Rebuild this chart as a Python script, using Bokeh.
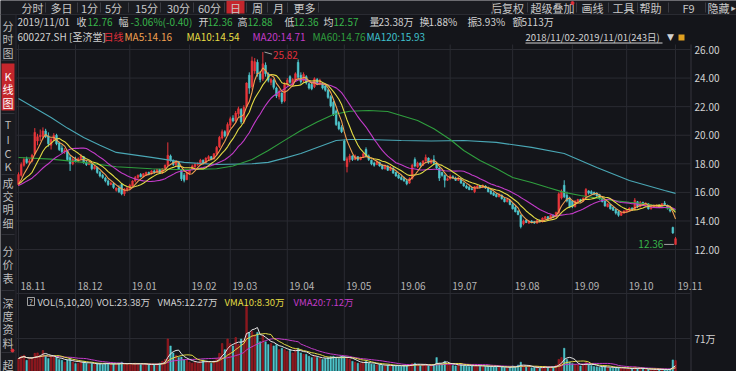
import pandas as pd
from bokeh.plotting import figure
from bokeh.models import Range1d, ColumnDataSource
from bokeh.core.properties import value
from bokeh.embed import file_html
from bokeh.resources import INLINE

# ---------------- data ----------------
# daily candles 2018/11/02 - 2019/11/01 (243 sessions), index 0..242
opens = [
    16.55, 17.20, 17.90, 18.35, 18.10, 18.20, 18.70, 19.60, 19.90, 19.90,
    20.30, 19.95, 19.30, 19.70, 20.00, 19.45, 19.10, 18.85, 18.90, 18.45,
    18.00, 18.30, 18.20, 18.35, 18.50, 18.10, 17.95, 18.00, 17.65, 17.75,
    17.40, 17.20, 17.00, 16.80, 16.55, 16.60, 16.15, 16.30, 16.55, 15.90,
    16.20, 16.25, 16.45, 16.80, 17.05, 17.25, 17.10, 17.25, 17.40, 17.30,
    17.50, 17.40, 17.60, 17.35, 17.60, 17.90, 18.55, 18.25, 17.95, 18.10,
    17.55, 17.20, 16.90, 17.35, 17.60, 17.80, 17.95, 17.95, 18.25, 18.05,
    18.35, 18.50, 18.35, 18.70, 19.20, 19.80, 20.25, 20.00, 20.70, 21.20,
    21.00, 21.50, 21.80, 20.95, 22.00, 24.20, 23.40, 24.50, 25.10, 24.30,
    23.95, 24.90, 24.30, 23.70, 23.85, 23.30, 22.70, 22.95, 22.40, 23.55,
    24.10, 23.55, 23.85, 25.10, 24.20, 23.80, 24.10, 23.60, 23.55, 23.40,
    23.90, 23.60, 23.60, 23.45, 23.15, 22.70, 22.30, 21.70, 20.90, 20.55,
    19.60, 17.80, 18.30, 18.55, 18.30, 18.50, 18.30, 18.45, 19.00, 18.55,
    18.25, 18.05, 17.95, 18.10, 17.90, 17.65, 17.85, 17.55, 17.70, 17.40,
    17.20, 17.05, 16.95, 16.80, 16.65, 16.95, 18.30, 17.80, 18.05, 17.90,
    18.20, 18.40, 18.05, 18.30, 18.00, 17.70, 17.40, 17.20, 16.85, 16.95,
    17.10, 17.00, 16.85, 16.95, 16.65, 16.45, 16.35, 16.25, 16.05, 16.35,
    16.45, 16.35, 16.45, 16.30, 16.10, 15.95, 15.85, 15.70, 15.80, 15.55,
    15.35, 15.45, 15.15, 14.95, 14.70, 14.40, 13.80, 14.05, 13.85, 14.00,
    13.95, 13.85, 14.05, 13.95, 14.15, 14.30, 14.15, 14.40, 14.30, 14.55,
    15.60, 16.50, 15.80, 15.60, 15.40, 15.00, 15.35, 15.50, 15.40, 15.60,
    16.10, 16.05, 16.00, 15.95, 15.85, 15.60, 15.40, 15.00, 15.15, 14.95,
    14.80, 14.65, 14.40, 14.55, 14.65, 14.75, 14.90, 14.80, 15.35, 15.00,
    15.30, 15.10, 15.20, 14.85, 14.95, 15.05, 15.10, 14.95, 15.25, 15.10,
    14.95, 13.55, 12.36,
]
highs = [
    17.40, 18.10, 18.45, 18.50, 18.35, 18.70, 20.50, 20.10, 20.40, 20.55,
    20.45, 20.20, 19.80, 20.15, 20.10, 19.55, 19.30, 19.10, 18.95, 18.60,
    18.45, 18.50, 18.45, 18.70, 18.55, 18.25, 18.15, 18.05, 17.90, 17.80,
    17.50, 17.30, 17.10, 16.90, 16.75, 16.70, 16.35, 16.50, 16.65, 16.30,
    16.40, 16.60, 16.85, 17.15, 17.25, 17.35, 17.35, 17.45, 17.45, 17.55,
    17.60, 17.65, 17.65, 17.70, 17.95, 19.50, 18.65, 18.30, 18.25, 18.15,
    17.60, 17.35, 17.45, 17.65, 17.95, 18.05, 18.10, 18.35, 18.30, 18.45,
    18.60, 18.55, 18.75, 19.25, 19.95, 20.40, 20.35, 20.90, 21.30, 21.40,
    21.70, 22.00, 21.90, 22.10, 23.70, 24.40, 25.50, 25.40, 25.30, 24.50,
    25.82, 25.10, 24.40, 24.00, 23.95, 23.40, 23.20, 23.00, 23.70, 24.00,
    24.20, 24.00, 24.40, 25.30, 24.40, 24.40, 24.20, 23.70, 23.65, 24.05,
    24.00, 23.95, 23.70, 23.55, 23.25, 22.80, 22.40, 21.80, 21.00, 20.70,
    19.70, 18.50, 18.70, 18.60, 18.65, 18.55, 18.50, 18.80, 19.15, 18.65,
    18.30, 18.15, 18.25, 18.15, 17.95, 17.95, 17.90, 17.85, 17.75, 17.45,
    17.30, 17.20, 17.10, 16.95, 17.05, 18.00, 18.45, 18.15, 18.10, 18.25,
    18.65, 18.45, 18.35, 18.60, 18.10, 17.75, 17.45, 17.25, 17.05, 17.25,
    17.20, 17.10, 17.10, 17.00, 16.70, 16.55, 16.45, 16.40, 16.45, 16.55,
    16.50, 16.55, 16.50, 16.40, 16.20, 16.05, 15.95, 15.95, 15.85, 15.60,
    15.55, 15.50, 15.25, 15.05, 14.75, 14.45, 14.10, 14.10, 14.05, 14.05,
    14.00, 14.10, 14.10, 14.25, 14.35, 14.35, 14.45, 14.45, 14.65, 16.00,
    16.20, 16.85, 16.05, 15.70, 15.45, 15.45, 15.55, 15.55, 15.65, 16.30,
    16.15, 16.15, 16.05, 16.00, 15.90, 15.65, 15.45, 15.25, 15.20, 15.00,
    14.85, 14.70, 14.65, 14.75, 14.85, 14.95, 14.95, 15.60, 15.40, 15.40,
    15.35, 15.30, 15.25, 15.05, 15.15, 15.15, 15.15, 15.25, 15.40, 15.15,
    15.00, 13.60, 12.88,
]
lows = [
    16.45, 17.10, 17.80, 18.00, 17.95, 18.10, 18.60, 19.30, 19.60, 19.70,
    19.80, 19.20, 19.00, 19.60, 19.30, 18.90, 18.75, 18.70, 18.20, 17.50,
    17.90, 18.10, 18.10, 18.25, 18.00, 17.85, 17.90, 17.55, 17.60, 17.30,
    17.05, 16.95, 16.70, 16.45, 16.50, 16.25, 16.05, 15.95, 15.80, 15.75,
    16.05, 16.15, 16.40, 16.70, 16.85, 17.05, 17.05, 17.15, 17.20, 17.25,
    17.30, 17.35, 17.30, 17.30, 17.55, 17.85, 18.15, 17.85, 17.80, 17.60,
    16.80, 16.70, 16.85, 17.25, 17.55, 17.70, 17.85, 17.90, 17.95, 18.00,
    18.25, 18.25, 18.30, 18.60, 19.10, 19.70, 19.85, 19.95, 20.50, 20.90,
    20.90, 21.30, 20.80, 20.80, 21.90, 22.90, 23.20, 24.30, 24.10, 23.70,
    23.80, 24.10, 23.70, 23.50, 23.20, 22.60, 22.50, 22.20, 22.30, 23.40,
    23.60, 23.45, 23.75, 23.90, 23.60, 23.70, 23.55, 23.20, 23.15, 23.30,
    23.50, 23.50, 23.20, 23.05, 22.55, 21.95, 21.35, 20.65, 20.35, 20.15,
    18.20, 17.40, 18.10, 18.20, 18.25, 18.20, 18.25, 18.40, 18.45, 18.20,
    17.90, 17.80, 17.90, 17.80, 17.60, 17.60, 17.50, 17.50, 17.30, 17.10,
    16.95, 16.85, 16.75, 16.50, 16.60, 16.90, 17.75, 17.70, 17.80, 17.85,
    18.15, 18.00, 18.00, 17.95, 17.60, 16.80, 17.10, 16.35, 16.80, 16.90,
    16.95, 16.80, 16.80, 16.60, 16.40, 16.25, 16.15, 16.15, 15.95, 16.25,
    16.30, 16.30, 16.25, 16.00, 15.85, 15.75, 15.65, 15.65, 15.50, 15.30,
    15.30, 15.10, 14.80, 14.60, 14.40, 13.48, 13.70, 13.85, 13.80, 13.85,
    13.80, 13.80, 13.90, 13.90, 14.10, 14.10, 14.10, 14.20, 14.25, 14.45,
    15.50, 15.60, 15.30, 14.90, 14.90, 14.95, 15.20, 15.30, 15.35, 15.55,
    15.85, 15.85, 15.80, 15.70, 15.50, 15.30, 15.00, 14.95, 14.80, 14.70,
    14.45, 14.30, 14.35, 14.50, 14.60, 14.70, 14.70, 14.75, 14.90, 14.95,
    15.05, 15.05, 14.80, 14.80, 14.90, 14.95, 14.90, 14.90, 15.10, 14.80,
    14.60, 13.10, 12.36,
]
closes = [
    17.25, 17.95, 18.30, 18.10, 18.20, 18.60, 20.20, 19.90, 20.00, 20.30,
    19.90, 19.40, 19.70, 20.00, 19.40, 19.00, 18.85, 18.95, 18.30, 18.00,
    18.30, 18.20, 18.35, 18.55, 18.10, 17.95, 18.05, 17.65, 17.80, 17.40,
    17.15, 17.05, 16.80, 16.55, 16.65, 16.35, 16.30, 16.05, 15.90, 16.20,
    16.30, 16.50, 16.80, 17.05, 17.20, 17.10, 17.30, 17.40, 17.30, 17.50,
    17.40, 17.60, 17.35, 17.65, 17.90, 18.60, 18.25, 17.95, 18.15, 17.65,
    16.95, 16.85, 17.35, 17.55, 17.85, 17.95, 18.00, 18.25, 18.05, 18.40,
    18.50, 18.30, 18.70, 19.15, 19.85, 20.25, 19.95, 20.75, 21.15, 21.00,
    21.55, 21.85, 20.95, 21.95, 23.65, 23.30, 25.20, 25.15, 24.30, 23.90,
    25.00, 24.30, 23.85, 23.90, 23.35, 22.75, 23.05, 22.35, 23.55, 23.85,
    23.70, 23.90, 24.30, 24.05, 23.75, 24.25, 23.65, 23.30, 23.25, 23.95,
    23.60, 23.85, 23.30, 23.15, 22.65, 22.05, 21.45, 20.75, 20.45, 20.25,
    18.25, 18.35, 18.55, 18.30, 18.55, 18.30, 18.45, 18.70, 18.55, 18.30,
    18.00, 17.90, 18.15, 17.85, 17.65, 17.85, 17.55, 17.75, 17.35, 17.15,
    17.00, 16.90, 16.80, 16.60, 16.95, 17.90, 17.85, 18.05, 17.90, 18.20,
    18.45, 18.10, 18.25, 18.05, 17.70, 17.00, 17.20, 16.85, 16.95, 17.15,
    17.00, 16.85, 17.00, 16.65, 16.45, 16.30, 16.20, 16.20, 16.40, 16.45,
    16.35, 16.50, 16.30, 16.05, 15.90, 15.80, 15.70, 15.85, 15.55, 15.35,
    15.50, 15.15, 14.85, 14.65, 14.45, 13.60, 14.00, 13.90, 14.00, 13.90,
    13.85, 14.05, 13.95, 14.20, 14.30, 14.15, 14.40, 14.30, 14.60, 15.90,
    16.05, 15.70, 15.40, 15.00, 15.00, 15.40, 15.50, 15.40, 15.60, 16.20,
    15.95, 15.90, 15.85, 15.75, 15.55, 15.35, 15.05, 15.20, 14.85, 14.75,
    14.55, 14.40, 14.60, 14.70, 14.80, 14.90, 14.80, 15.45, 15.00, 15.30,
    15.10, 15.25, 14.85, 15.00, 15.10, 15.10, 14.95, 15.20, 15.15, 14.95,
    14.70, 13.16, 12.76,
]
# volume, in 万 (10k lots)
volumes = [
    28, 33, 35, 24, 26, 28, 39, 40, 35, 45, 35, 28, 31, 30, 31, 26, 24, 20, 25, 28, 20,
    17, 18, 20, 22, 18, 15, 17, 15, 18, 17, 15, 18, 17, 15, 17, 15, 18, 20, 16, 15,
    17, 16, 18, 17, 15, 16, 15, 14, 15, 15, 16, 18, 22, 26, 70, 55, 40, 35, 30, 31, 25, 24,
    20, 18, 21, 18, 22, 25, 20, 21, 18, 23, 28, 39, 60, 47, 70,
    60, 55, 73, 58, 70, 68, 140, 84, 86, 79, 84, 64, 77, 64, 58, 60, 55, 58, 47, 50, 47,
    43, 47, 40, 47, 50, 40, 37, 37, 33, 30, 33, 30, 28, 26, 28, 30, 32, 33, 30, 28, 33,
    32, 30, 26, 22, 20, 18, 17, 20, 22, 18, 16, 15, 14, 15, 13, 12, 14, 12, 13, 12,
    13, 11, 12, 13, 15, 17, 18, 15, 13, 14, 16, 13, 12, 15, 30, 18, 15, 22, 18,
    15, 13, 12, 14, 15, 13, 12, 11, 12, 14, 13, 11, 10, 11, 12, 11, 10, 11, 9, 10, 9, 8, 9,
    12, 11, 14, 20, 12, 10, 9, 8, 9, 8, 7, 10, 11, 9, 10, 9, 14, 26, 30, 50, 26, 20,
    17, 15, 14, 12, 16, 20, 15, 13, 11, 10, 9, 10, 11, 9, 8, 7, 8, 9, 8, 6,
    5.5, 6, 5.5, 10, 6.5, 6, 5.5, 4.5, 4.4, 4.5, 4.3, 4.2, 4.4, 4.2, 4, 4, 5, 25, 23.38,
]
# closes of the sessions just before the window, estimated from where MA5/10/20 start
pre_closes = [16.3, 16.1, 15.9, 16.2, 16.5, 16.7, 16.5, 16.3, 16.6, 16.8,
              16.6, 16.4, 16.5, 16.8, 16.6, 16.4, 16.3, 16.5, 16.45]
# MA60 / MA120 (need history before the window)
ma60_idx = [0, 12, 24, 36, 49, 61, 73, 79, 86, 92, 98, 104, 110, 116, 122, 129, 136,
            147, 153, 159, 164, 170, 176, 182, 189, 195, 201, 207, 213, 219, 225, 231, 238, 242]
ma60_val = [18.44, 18.33, 18.1, 17.8, 17.65, 17.58, 17.65, 17.85, 18.3, 18.93, 19.64,
            20.33, 20.92, 21.45, 21.68, 21.73, 21.66, 21.03, 20.45, 19.7, 18.93, 18.23,
            17.67, 17.04, 16.69, 16.34, 16.0, 15.78, 15.6, 15.43, 15.3, 15.2, 14.95, 14.76]
ma120_idx = [0, 6, 12, 18, 24, 30, 36, 49, 61, 73, 86, 92, 98, 104, 110, 117, 122, 128,
             141, 152, 164, 176, 189, 201, 213, 225, 238, 242]
ma120_val = [22.57, 21.9, 21.24, 20.5, 19.84, 19.3, 18.8, 18.45, 18.1, 17.95, 18.0, 18.1,
             18.4, 18.72, 19.14, 19.63, 19.7, 19.7, 19.63, 19.6, 19.63, 19.5, 19.15, 18.72,
             17.75, 16.83, 16.13, 15.93]
month_labels = ["18.11", "18.12", "19.01", "19.02", "19.03", "19.04", "19.05",
                "19.06", "19.07", "19.08", "19.09", "19.10", "19.11"]
month_start = [0, 21, 41, 63, 78, 99, 120, 140, 159, 182, 204, 224, 242]
price_ticks = [12, 14, 16, 18, 20, 22, 24, 26]
vol_ticks = [71]

# ---------------- layout / style ----------------
W, H = 736, 371
X0, DX = 18.0, 2.715          # px of first session, px per session
Y26, PY = 49.0, 14.29         # y px of price 26, px per yuan
VBASE, VY = 371.0, 0.465      # y px of zero volume, px per 万
BG = "#14151a"
GRID = "#2a2b32"
UP = "#e8353b"
DN = "#4fc6cc"
TXT = "#d2d2d2"
GRY = "#b4b4b4"
GRN = "#38b44a"
RED = "#e0303a"
C_MA5, C_MA10, C_MA20 = "#f0a050", "#e3dc45", "#c23bc8"
C_MA60, C_MA120 = "#2f9e3e", "#4aa7b5"
FONT = "Noto Sans CJK SC"

p = figure(width=W, height=H, output_backend="svg", toolbar_location=None,
           x_range=Range1d(-X0 / DX, (W - X0) / DX),
           y_range=Range1d(26 - (H - Y26) / PY, 26 + Y26 / PY),
           x_axis_location=None, y_axis_location=None, min_border=0,
           background_fill_color=BG, border_fill_color=BG, outline_line_color=None)
p.extra_x_ranges = {"px": Range1d(0, W)}
p.extra_y_ranges = {"px": Range1d(H, 0),
                    "vol": Range1d(-(H - VBASE) / VY, VBASE / VY)}
p.grid.grid_line_color = None


def txt(xs, ys, texts, colors, size="10px", align="left", xr="px", yr="px",
        font=FONT, baseline="middle", x_offset=0):
    p.text(x=xs, y=ys, text=texts, text_color=colors, text_font=value(font),
           text_font_size=size, text_align=align, text_baseline=baseline,
           x_range_name=xr, y_range_name=yr, x_offset=x_offset)


# ---- chrome: toolbar row, sidebar ----
p.quad(left=0, right=W, top=0, bottom=14, fill_color="#1a1b20", line_color=None,
       x_range_name="px", y_range_name="px")
p.quad(left=0, right=15, top=14, bottom=H, fill_color="#191a1f", line_color=None,
       x_range_name="px", y_range_name="px")
p.segment(x0=15.5, x1=15.5, y0=14, y1=H, line_color=GRID, x_range_name="px", y_range_name="px")
p.segment(x0=0, x1=W, y0=14, y1=14, line_color=GRID, x_range_name="px", y_range_name="px")
p.quad(left=226, right=244, top=0, bottom=13, fill_color="#c4262c", line_color=None,
       x_range_name="px", y_range_name="px")
p.quad(left=1, right=14, top=63, bottom=110, fill_color="#c4262c", line_color=None,
       x_range_name="px", y_range_name="px")

tb_text = ["分时", "多日", "1分", "5分", "15分", "30分", "60分", "日", "周", "月", "更多",
           "后复权", "超级叠加", "画线", "工具", "帮助", "F9", "隐藏"]
tb_cx = [32, 61, 89, 113, 146, 178, 209, 235, 257, 278, 304, 507, 552, 592, 623, 650, 688, 718]
txt(tb_cx, [7] * len(tb_text), tb_text, ["#c8c8c8"] * len(tb_text), size="11px", align="center")
txt([733], [7], ["▸"], ["#c8c8c8"], size="9px", align="center", font="DejaVu Sans")
tb_sep = [45, 77, 100, 128, 160, 193, 224, 246, 267, 287, 318, 492, 527, 576, 608, 637, 668, 705]
p.segment(x0=tb_sep, x1=tb_sep, y0=2, y1=12, line_color="#3a3b42",
          x_range_name="px", y_range_name="px")
p.scatter(x=[572], y=[2.5], size=3, color=RED, x_range_name="px", y_range_name="px")

side_chars = ["分", "时", "图", "K", "线", "图", "T", "I", "C", "K", "成", "交", "明", "细",
              "分", "价", "表", "深", "度", "资", "料", "超"]
side_y = [25, 38, 52, 75, 88, 102, 123, 138, 152, 165, 182, 195, 208, 222,
          250, 263, 277, 302, 315, 328, 342, 364]
side_col = ["#bdbdbd"] * 3 + ["#ffffff"] * 3 + ["#bdbdbd"] * 16
txt([7.5] * len(side_chars), side_y, side_chars, side_col, size="11px", align="center")
side_sep = [60, 113, 174, 234, 290, 352]
p.segment(x0=1, x1=14, y0=side_sep, y1=side_sep, line_color="#303138",
          x_range_name="px", y_range_name="px")
p.scatter(x=[12], y=[350], size=3, color=RED, x_range_name="px", y_range_name="px")

# ---- header rows ----
row2_text = ["2019/11/01", "收", "12.76", "幅", "-3.06%(-0.40)", "开", "12.36", "高", "12.88",
             "低", "12.36", "均", "12.57", "量", "23.38万", "换", "1.88%", "振", "3.93%",
             "额", "5113万"]
row2_x = [17, 76, 87, 118, 130, 198, 207, 237, 247, 284, 293, 323, 333, 369, 378, 419, 428,
          467, 476, 512, 521]
row2_col = [TXT, TXT, GRN, TXT, GRN, TXT, GRN, TXT, GRN, TXT, GRN, TXT, GRN,
            TXT, TXT, TXT, TXT, TXT, TXT, TXT, TXT]
txt(row2_x, [21] * len(row2_text), row2_text, row2_col)

row3_text = ["600227.SH [圣济堂]", "日线", "MA5:14.16", "MA10:14.54", "MA20:14.71",
             "MA60:14.76", "MA120:15.93"]
row3_x = [17, 103, 124, 186, 252, 312, 366]
row3_col = [TXT, RED, C_MA5, C_MA10, C_MA20, C_MA60, "#3fc0cc"]
txt(row3_x, [36] * len(row3_text), row3_text, row3_col)
txt([525], [36], ["2018/11/02-2019/11/01(243日)"], [TXT], size="9.5px")
p.segment(x0=525, x1=662, y0=42.5, y1=42.5, line_color=TXT, x_range_name="px", y_range_name="px")
txt([670], [36], ["▼"], [TXT], size="9px", align="center", font="DejaVu Sans")
p.quad(left=678, right=684, top=34, bottom=40, fill_color="#e0a020", line_color=None,
       x_range_name="px", y_range_name="px")

# ---- grid ----
p.segment(x0=16, x1=690, y0=price_ticks, y1=price_ticks, line_color=GRID,
          x_range_name="px")
p.segment(x0=month_start, x1=month_start, y0=44, y1=H, line_color=GRID, y_range_name="px")
p.segment(x0=690.5, x1=690.5, y0=44, y1=H, line_color="#34353c",
          x_range_name="px", y_range_name="px")
p.segment(x0=16, x1=690, y0=293, y1=293, line_color=GRID, x_range_name="px", y_range_name="px")
p.segment(x0=16, x1=690, y0=vol_ticks, y1=vol_ticks, line_color=GRID,
          x_range_name="px", y_range_name="vol")

# axis texts
txt([694] * len(price_ticks), price_ticks, ["%.2f" % t for t in price_ticks],
    [TXT] * len(price_ticks), yr="default")
txt(month_start, [285] * len(month_start), month_labels, [GRY] * len(month_start),
    xr="default", x_offset=2)
txt([694], vol_ticks, ["%d万" % v for v in vol_ticks], [TXT], yr="vol")

# ---- candles ----
idx = list(range(len(closes)))
is_up = [c >= o for o, c in zip(opens, closes)]
src = ColumnDataSource(dict(
    x=idx, h=highs, l=lows,
    top=[max(o, c) for o, c in zip(opens, closes)],
    bot=[min(o, c) for o, c in zip(opens, closes)],
    col=[UP if u else DN for u in is_up],
    vfill=["#7e1318" if u else DN for u in is_up],
    vline=["#c4222a" if u else DN for u in is_up],
    vol=volumes,
))
p.segment(x0="x", y0="l", x1="x", y1="h", line_color="col", line_width=1, source=src)
p.vbar(x="x", width=0.62, top="top", bottom="bot", fill_color="col", line_color="col",
       line_width=0.6, source=src)

# moving averages
allc = pd.Series(pre_closes + closes)
def ma(n):
    return allc.rolling(n, min_periods=1).mean().iloc[len(pre_closes):].tolist()

p.line(ma120_idx, ma120_val, line_color=C_MA120, line_width=1.1)
p.line(ma60_idx, ma60_val, line_color=C_MA60, line_width=1.1)
p.line(idx, ma(20), line_color=C_MA20, line_width=1.1)
p.line(idx, ma(10), line_color=C_MA10, line_width=1.1)
p.line(idx, ma(5), line_color=C_MA5, line_width=1.1)

# high / low marks
hi_i = max(idx, key=lambda i: highs[i])
p.segment(x0=[hi_i + 0.6], y0=[highs[hi_i]], x1=[hi_i + 3.4], y1=[highs[hi_i] - 0.15],
          line_color="#c8c8c8", line_width=0.8)
txt([hi_i + 3.7], [highs[hi_i] - 0.2], ["%.2f" % highs[hi_i]], [RED], xr="default",
    yr="default")
lo_i = min(idx, key=lambda i: lows[i])
p.segment(x0=[lo_i - 4.2], y0=[lows[lo_i]], x1=[lo_i - 0.6], y1=[lows[lo_i]],
          line_color="#c8c8c8", line_width=0.8)
txt([lo_i - 4.5], [lows[lo_i]], ["%.2f" % lows[lo_i]], [GRN], align="right",
    xr="default", yr="default")

# ---- volume ----
p.vbar(x="x", width=0.55, top="vol", bottom=0, fill_color="vfill", line_color="vline",
       line_width=0.5, source=src, y_range_name="vol")
v = pd.Series(volumes)
def vma(n):
    return v.rolling(n, min_periods=1).mean().tolist()

p.line(idx, vma(20), line_color=C_MA20, line_width=1, y_range_name="vol")
p.line(idx, vma(10), line_color=C_MA10, line_width=1, y_range_name="vol")
p.line(idx, vma(5), line_color="#e6e6e6", line_width=1, y_range_name="vol")

p.quad(left=27, right=34, top=297, bottom=305, fill_color=None, line_color="#a0a0a0",
       x_range_name="px", y_range_name="px")
txt([30.5], [301], ["?"], ["#c0c0c0"], size="8px", align="center")
vh_text = ["VOL(5,10,20)", "VOL:23.38万", "VMA5:12.27万", "VMA10:8.30万", "VMA20:7.12万"]
vh_x = [37, 96, 157, 224, 293]
vh_col = [TXT, TXT, TXT, C_MA10, C_MA20]
txt(vh_x, [301] * len(vh_text), vh_text, vh_col, size="9.5px")

open("out.html", "w").write(file_html(p, INLINE))
